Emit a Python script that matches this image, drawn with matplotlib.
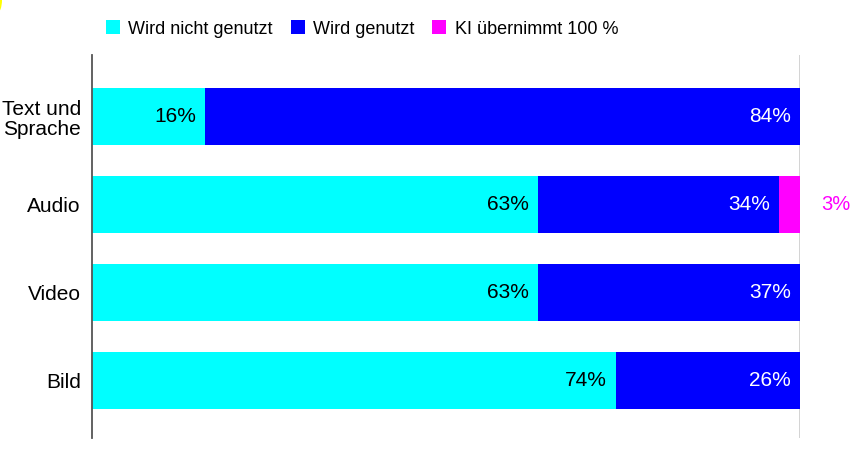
import matplotlib
matplotlib.use("Agg")
import matplotlib.pyplot as plt
from matplotlib.patches import Patch, Ellipse

categories = ["Text und\nSprache", "Audio", "Video", "Bild"]
not_used = [16, 63, 63, 74]
used = [84, 34, 37, 26]
ki_full = [0, 3, 0, 0]
series_names = ["Wird nicht genutzt", "Wird genutzt", "KI übernimmt 100 %"]
colors = ["#00FFFF", "#0000FF", "#FF00FF"]

plt.rcParams['font.family'] = ['Liberation Sans', 'DejaVu Sans']

W, H = 852, 454
fig = plt.figure(figsize=(W / 100, H / 100), dpi=100)
ax = fig.add_axes([92 / W, 1 - 438 / H, 708 / W, (438 - 55) / H])

ypos = list(range(len(categories)))
bh = 0.648
ax.barh(ypos, not_used, height=bh, color=colors[0], label=series_names[0])
ax.barh(ypos, used, left=not_used, height=bh, color=colors[1], label=series_names[1])
left3 = [a + b for a, b in zip(not_used, used)]
ax.barh(ypos, ki_full, left=left3, height=bh, color=colors[2], label=series_names[2])

for i in ypos:
    ax.annotate(f"{not_used[i]}%", xy=(not_used[i], i), xytext=(-6.5, 0),
                textcoords="offset points", ha="right", va="center",
                fontsize=15, color="black")
    ax.annotate(f"{used[i]}%", xy=(not_used[i] + used[i], i), xytext=(-6.5, 0),
                textcoords="offset points", ha="right", va="center",
                fontsize=15, color="white")
    if ki_full[i] > 0:
        ax.annotate(f"{ki_full[i]}%", xy=(100, i), xytext=(15, 0),
                    textcoords="offset points", ha="left", va="center",
                    fontsize=14.5, color="#FF00FF")

ax.set_xlim(0, 100)
ax.set_ylim(3.648, -0.699)
ax.set_yticks(ypos)
ax.set_yticklabels(categories, fontsize=15, linespacing=1.08)
ax.tick_params(axis="y", length=0, pad=8)
ax.set_xticks([])
for s in ["top", "bottom", "right"]:
    ax.spines[s].set_visible(False)
ax.spines["left"].set_color("#555555")
ax.spines["left"].set_linewidth(1.3)
ax.axvline(100, color="#cccccc", linewidth=1.2, zorder=0)

handles = [Patch(facecolor=c, edgecolor="none") for c in colors]
fig.legend(handles, series_names, loc="center", bbox_to_anchor=(362 / W, 1 - 29 / H),
           ncol=3, frameon=False, fontsize=13, handlelength=0.78, handleheight=0.78,
           handletextpad=0.45, columnspacing=1.0, borderaxespad=0, borderpad=0)

fig.patches.append(Ellipse((-3 / W, 1.0), 10 / W, 26 / H, transform=fig.transFigure,
                           facecolor="#FFFF00", edgecolor="none", figure=fig))

fig.savefig("out.png", dpi=100)
